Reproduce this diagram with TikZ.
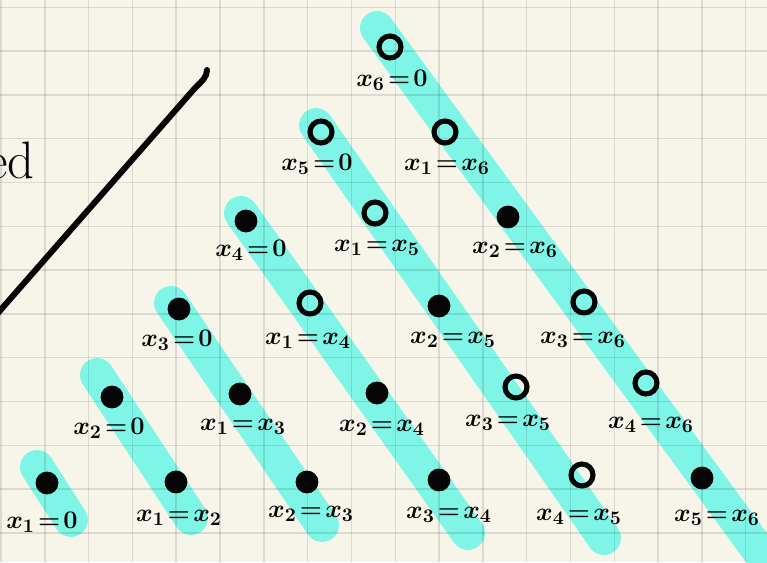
\documentclass[tikz,border=0pt]{standalone}
\usepackage{amsmath}
\usepackage{tikz}
\usetikzlibrary{positioning}
\definecolor{paper}{HTML}{F7F5EA}
\definecolor{hl}{HTML}{7EF5E6}
\definecolor{ink}{HTML}{050505}
\newcommand{\xeq}[2]{$x_{#1}\mkern2mu{=}\mkern2mu#2$}
\tikzset{
  band/.style={draw=hl,line width=19.3pt,line cap=round},
  gridline/.style={draw=black,opacity=0.11,line width=0.8pt},
  solid dot/.style={circle,fill=ink,minimum size=13pt,inner sep=0pt},
  hollow dot/.style={circle,draw=ink,line width=2.9pt,minimum size=12.5pt,inner sep=0pt},
  lbl/.style={font=\fontsize{15}{18}\selectfont\boldmath,inner sep=0pt,text=ink},
  pen/.style={draw=ink,line width=3.4pt,line cap=round,line join=round},
}

\begin{document}
\begin{tikzpicture}[x=0.02cm,y=-0.02cm]
    \useasboundingbox (0,0) rectangle (767,562);
    \clip (0,0) rectangle (767,562);
    \fill[paper] (0,0) rectangle (767,562);

    % highlighted rows
    \coordinate (b1s) at (37,467);  \coordinate (b1e) at (71,520);
    \coordinate (b2s) at (97,375);  \coordinate (b2e) at (191,518);
    \coordinate (b3s) at (171,303); \coordinate (b3e) at (322,525);
    \coordinate (b4s) at (241,213); \coordinate (b4e) at (468,533);
    \coordinate (b5s) at (316,125); \coordinate (b5e) at (604,538);
    \coordinate (b6s) at (377,28);  \coordinate (b6e) at (780,580);
    \foreach \b in {1,...,6}
      \draw[band] (b\b s) -- (b\b e);

    % grid paper
    \foreach \i in {0,...,17}
      \draw[gridline] ({1+43.8*\i},0) -- ({1+43.8*\i},562);
    \foreach \j in {0,...,12}
      \draw[gridline] (0,{7.3+43.8*\j}) -- (767,{7.3+43.8*\j});

    % stroke and cut-off word
    \coordinate (penA) at (207,70);
    \coordinate (penB) at (-10,322);
    \draw[pen] (penA) .. controls (207,77) and (202,81) .. (195,88) -- (penB);
    \node[anchor=base east,font=\fontsize{30}{36}\selectfont,text=ink] (word) at (41,178) {ed};

    % band 1
    \node[solid dot] (d11) at (47,483) {};
    \node[lbl] (l11) at (42,522) {\xeq{1}{0}};
    % band 2
    \node[solid dot] (d21) at (112,397) {};
    \node[lbl] (l21) at (109,428) {\xeq{2}{0}};
    \node[solid dot] (d22) at (176,482) {};
    \node[lbl] (l22) at (179,518) {\xeq{1}{x_2}};
    % band 3
    \node[solid dot] (d31) at (179,309) {};
    \node[lbl] (l31) at (177,340) {\xeq{3}{0}};
    \node[solid dot] (d32) at (240,394) {};
    \node[lbl] (l32) at (243,427) {\xeq{1}{x_3}};
    \node[solid dot] (d33) at (307,482) {};
    \node[lbl] (l33) at (311,514) {\xeq{2}{x_3}};
    % band 4
    \node[solid dot] (d41) at (246,221) {};
    \node[lbl] (l41) at (251,250) {\xeq{4}{0}};
    \node[hollow dot] (d42) at (310,303) {};
    \node[lbl] (l42) at (308,341) {\xeq{1}{x_4}};
    \node[solid dot] (d43) at (377,393) {};
    \node[lbl] (l43) at (382,428) {\xeq{2}{x_4}};
    \node[solid dot] (d44) at (439,480) {};
    \node[lbl] (l44) at (449,515) {\xeq{3}{x_4}};
    % band 5
    \node[hollow dot] (d51) at (321,132) {};
    \node[lbl] (l51) at (317,164) {\xeq{5}{0}};
    \node[hollow dot] (d52) at (375,213) {};
    \node[lbl] (l52) at (377,248) {\xeq{1}{x_5}};
    \node[solid dot] (d53) at (439,306) {};
    \node[lbl] (l53) at (453,340) {\xeq{2}{x_5}};
    \node[hollow dot] (d54) at (516,387) {};
    \node[lbl] (l54) at (508,423) {\xeq{3}{x_5}};
    \node[hollow dot] (d55) at (582,475) {};
    \node[lbl] (l55) at (579,517) {\xeq{4}{x_5}};
    % band 6
    \node[hollow dot] (d61) at (390,47) {};
    \node[lbl] (l61) at (392,80) {\xeq{6}{0}};
    \node[hollow dot] (d62) at (445,132) {};
    \node[lbl] (l62) at (447,167) {\xeq{1}{x_6}};
    \node[solid dot] (d63) at (508,217) {};
    \node[lbl] (l63) at (515,250) {\xeq{2}{x_6}};
    \node[hollow dot] (d64) at (584,302) {};
    \node[lbl] (l64) at (583,340) {\xeq{3}{x_6}};
    \node[hollow dot] (d65) at (646,383) {};
    \node[lbl] (l65) at (651,425) {\xeq{4}{x_6}};
    \node[solid dot] (d66) at (702,478) {};
    \node[lbl] (l66) at (717,518) {\xeq{5}{x_6}};
  \end{tikzpicture}
\end{document}
